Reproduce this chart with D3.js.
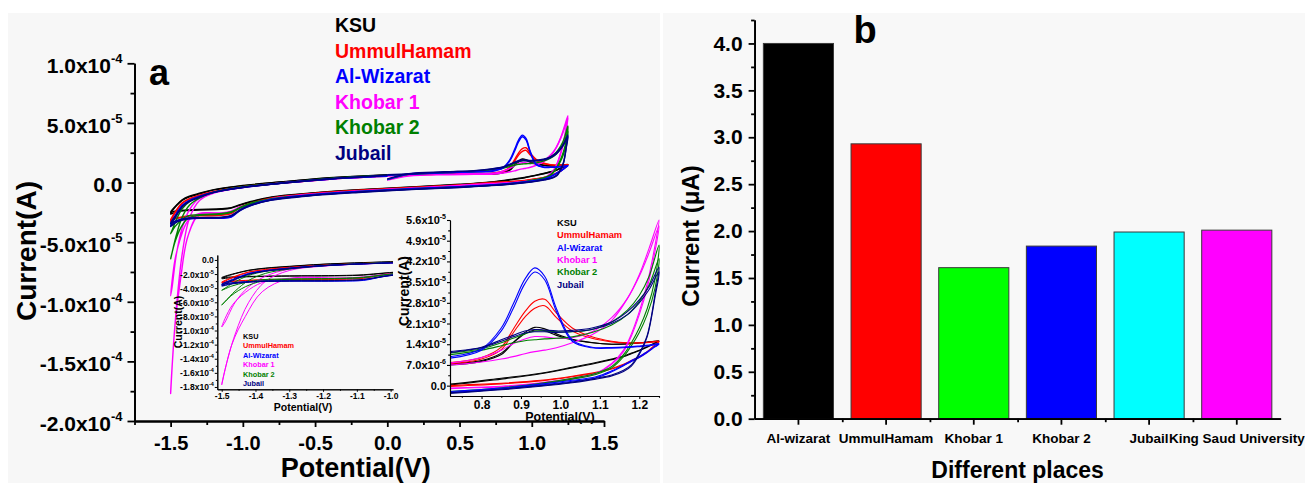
<!DOCTYPE html>
<html><head><meta charset="utf-8">
<script src="https://cdn.jsdelivr.net/npm/d3@7"></script>
<style>body{margin:0;background:#fff}</style>
</head><body><svg id="c" width="1305" height="483"></svg>
<script>
// ---------- Panel a: cyclic voltammograms (current in 10^-5 A) ----------
const loopPotential = [
  0.00, 0.15, 0.40, 0.60, 0.72, 0.80, 0.85, 0.88, 0.91, 0.935, 0.96, 0.99, 1.03, 1.08, 1.13, 1.17, 1.20, 1.225, 1.25,
  1.24, 1.22, 1.20, 1.18, 1.16, 1.13, 1.09, 1.03, 0.95, 0.85, 0.72, 0.50, 0.20, -0.20, -0.50, -0.80, -0.95, -1.02, -1.08, -1.15, -1.30, -1.38, -1.43, -1.47, -1.50,
  -1.49, -1.46, -1.42, -1.37, -1.30, -1.20, -1.00, -0.70, -0.40, -0.10, 0.00];

const ksuCycle1 = [
  0.25, 0.65, 0.75, 0.75, 0.70, 0.82, 1.05, 1.45, 1.80, 1.97, 1.92, 1.75, 1.57, 1.46, 1.40, 1.42, 1.45, 1.48, 1.52,
  1.45, 1.32, 1.20, 1.10, 1.00, 0.90, 0.78, 0.62, 0.42, 0.25, 0.05, -0.15, -0.35, -0.60, -0.85, -1.20, -1.60, -1.85, -2.10, -2.20, -2.25, -2.30, -2.35, -2.40, -2.50,
  -2.30, -1.90, -1.45, -1.15, -0.90, -0.60, -0.25, 0.10, 0.40, 0.60, 0.65];
const ksuCycle2 = [
  0.62, 0.68, 0.78, 0.78, 0.74, 0.85, 1.10, 1.45, 1.75, 1.88, 1.86, 1.70, 1.55, 1.45, 1.40, 1.41, 1.44, 1.47, 1.50,
  1.43, 1.30, 1.18, 1.08, 0.98, 0.88, 0.76, 0.60, 0.40, 0.22, 0.02, -0.18, -0.38, -0.62, -0.88, -1.25, -1.65, -1.90, -2.15, -2.25, -2.30, -2.35, -2.40, -2.50, -2.65,
  -2.40, -1.95, -1.50, -1.20, -0.95, -0.62, -0.28, 0.08, 0.38, 0.58, 0.62];

const ummulHamamCycle1 = [
  0.25, 0.62, 0.72, 0.76, 0.78, 0.95, 1.30, 1.90, 2.50, 2.85, 2.92, 2.45, 1.95, 1.65, 1.50, 1.45, 1.45, 1.47, 1.50,
  1.38, 1.15, 0.98, 0.85, 0.72, 0.58, 0.45, 0.32, 0.18, 0.08, 0.00, -0.20, -0.40, -0.65, -0.90, -1.30, -1.75, -2.05, -2.55, -2.70, -2.75, -2.80, -2.90, -3.00, -3.15,
  -2.90, -2.30, -1.70, -1.35, -1.05, -0.75, -0.35, 0.00, 0.30, 0.50, 0.55];
const ummulHamamCycle2 = [
  0.58, 0.62, 0.72, 0.75, 0.74, 0.90, 1.22, 1.78, 2.32, 2.62, 2.70, 2.30, 1.85, 1.60, 1.48, 1.44, 1.44, 1.46, 1.48,
  1.36, 1.13, 0.96, 0.83, 0.70, 0.56, 0.43, 0.30, 0.16, 0.06, -0.03, -0.22, -0.42, -0.68, -0.93, -1.33, -1.80, -2.10, -2.60, -2.75, -2.80, -2.85, -2.95, -3.05, -3.25,
  -3.00, -2.40, -1.75, -1.40, -1.10, -0.78, -0.38, -0.02, 0.28, 0.48, 0.53];

const alWizaratCycle1 = [
  0.25, 0.72, 0.85, 0.92, 0.98, 1.25, 1.95, 2.75, 3.60, 3.98, 3.70, 2.60, 1.55, 1.30, 1.29, 1.31, 1.34, 1.37, 1.42,
  1.33, 1.15, 0.98, 0.85, 0.70, 0.50, 0.30, 0.18, 0.05, -0.08, -0.20, -0.35, -0.50, -0.75, -1.00, -1.40, -1.90, -2.30, -2.85, -2.95, -2.95, -3.00, -3.10, -3.25, -3.45,
  -3.20, -2.60, -1.90, -1.50, -1.15, -0.80, -0.40, 0.00, 0.30, 0.50, 0.55];
const alWizaratCycle2 = [
  0.60, 0.70, 0.82, 0.90, 0.93, 1.20, 1.85, 2.60, 3.45, 3.84, 3.58, 2.50, 1.50, 1.28, 1.27, 1.29, 1.32, 1.35, 1.40,
  1.31, 1.12, 0.95, 0.82, 0.67, 0.47, 0.27, 0.15, 0.02, -0.11, -0.23, -0.38, -0.53, -0.78, -1.03, -1.45, -1.95, -2.35, -2.90, -3.00, -3.00, -3.05, -3.15, -3.35, -3.65,
  -3.35, -2.70, -1.95, -1.55, -1.20, -0.83, -0.43, -0.03, 0.28, 0.48, 0.53];

const khobar1Cycle1 = [
  0.20, 0.55, 0.65, 0.68, 0.70, 0.80, 0.90, 0.98, 1.08, 1.15, 1.20, 1.28, 1.45, 1.72, 2.20, 2.95, 3.75, 4.65, 5.60,
  4.75, 3.45, 2.50, 1.75, 1.20, 0.75, 0.42, 0.25, 0.10, -0.02, -0.08, -0.25, -0.45, -0.70, -0.95, -1.35, -1.80, -2.05, -2.40, -2.55, -2.60, -3.20, -4.60, -6.50, -9.50,
  -8.80, -6.00, -3.80, -2.30, -1.30, -0.85, -0.40, 0.00, 0.30, 0.50, 0.55];
const khobar1Cycle2 = [
  0.55, 0.62, 0.72, 0.75, 0.76, 0.95, 1.20, 1.42, 1.58, 1.66, 1.65, 1.60, 1.62, 1.82, 2.30, 2.95, 3.70, 4.50, 5.40,
  4.55, 3.30, 2.40, 1.68, 1.15, 0.72, 0.40, 0.23, 0.08, -0.04, -0.10, -0.27, -0.47, -0.72, -0.98, -1.38, -1.85, -2.10, -2.45, -2.60, -2.65, -4.50, -8.00, -12.00, -17.70,
  -15.50, -10.50, -6.00, -3.00, -1.50, -0.88, -0.42, -0.02, 0.28, 0.48, 0.53];

const khobar2Cycle1 = [
  0.25, 0.70, 0.85, 0.95, 1.10, 1.25, 1.45, 1.60, 1.75, 1.85, 1.85, 1.82, 1.82, 1.90, 2.15, 2.55, 3.05, 3.70, 4.75,
  3.60, 2.60, 1.95, 1.45, 1.05, 0.65, 0.42, 0.25, 0.08, -0.07, -0.20, -0.35, -0.50, -0.75, -1.00, -1.35, -1.75, -2.10, -2.45, -2.60, -2.70, -2.80, -3.20, -3.70, -4.30,
  -4.00, -3.10, -2.20, -1.60, -1.20, -0.80, -0.35, 0.00, 0.35, 0.55, 0.60];
const khobar2Cycle2 = [
  0.60, 0.68, 0.82, 0.92, 1.05, 1.20, 1.35, 1.45, 1.52, 1.55, 1.58, 1.60, 1.65, 1.80, 2.05, 2.40, 2.85, 3.40, 4.30,
  3.30, 2.40, 1.80, 1.35, 0.98, 0.60, 0.38, 0.22, 0.05, -0.10, -0.23, -0.38, -0.53, -0.78, -1.03, -1.40, -1.80, -2.15, -2.50, -2.65, -2.75, -3.00, -3.80, -5.00, -6.40,
  -5.90, -4.40, -2.90, -1.90, -1.30, -0.83, -0.38, -0.02, 0.33, 0.53, 0.58];

const jubailCycle1 = [
  0.30, 0.75, 0.90, 1.00, 1.15, 1.30, 1.55, 1.70, 1.85, 1.90, 1.88, 1.85, 1.87, 1.95, 2.15, 2.50, 2.90, 3.35, 4.00,
  3.10, 1.70, 1.10, 0.70, 0.52, 0.36, 0.25, 0.12, 0.00, -0.12, -0.24, -0.40, -0.55, -0.80, -1.05, -1.45, -1.90, -2.30, -2.75, -2.90, -2.95, -3.00, -3.10, -3.25, -3.45,
  -3.20, -2.70, -2.00, -1.55, -1.20, -0.80, -0.40, 0.00, 0.32, 0.55, 0.62];
const jubailCycle2 = [
  0.65, 0.72, 0.88, 0.98, 1.12, 1.28, 1.50, 1.65, 1.78, 1.82, 1.82, 1.80, 1.83, 1.90, 2.10, 2.40, 2.80, 3.25, 3.85,
  3.00, 1.65, 1.05, 0.66, 0.48, 0.33, 0.22, 0.10, -0.02, -0.14, -0.26, -0.42, -0.57, -0.83, -1.08, -1.48, -1.95, -2.35, -2.80, -2.95, -3.00, -3.05, -3.20, -3.40, -3.70,
  -3.40, -2.80, -2.05, -1.60, -1.25, -0.83, -0.42, -0.02, 0.30, 0.52, 0.60];

const seriesNames = ["KSU", "UmmulHamam", "Al-Wizarat", "Khobar 1", "Khobar 2", "Jubail"];
const seriesColors = ["#000000", "#ff0000", "#0000ff", "#ff00ff", "#008000", "#000080"];

// tick labels (mantissa, exponent)
const mainXTickValues = [-1.5, -1.0, -0.5, 0.0, 0.5, 1.0, 1.5];
const mainYTickValues = [10, 5, 0, -5, -10, -15, -20];
const mainYTickLabels = [["1.0x10","-4"],["5.0x10","-5"],["0.0",""],["-5.0x10","-5"],["-1.0x10","-4"],["-1.5x10","-4"],["-2.0x10","-4"]];
const rightXTickValues = [0.8, 0.9, 1.0, 1.1, 1.2];
const rightYTickValues = [0, 0.7, 1.4, 2.1, 2.8, 3.5, 4.2, 4.9, 5.6];
const rightYTickLabels = [["0.0",""],["7.0x10","-6"],["1.4x10","-5"],["2.1x10","-5"],["2.8x10","-5"],["3.5x10","-5"],["4.2x10","-5"],["4.9x10","-5"],["5.6x10","-5"]];
const leftXTickValues = [-1.5, -1.4, -1.3, -1.2, -1.1, -1.0];
const leftYTickValues = [0, -2, -4, -6, -8, -10, -12, -14, -16, -18];
const leftYTickLabels = [["0.0",""],["-2.0x10","-5"],["-4.0x10","-5"],["-6.0x10","-5"],["-8.0x10","-5"],["-1.0x10","-4"],["-1.2x10","-4"],["-1.4x10","-4"],["-1.6x10","-4"],["-1.8x10","-4"]];

// ---------- Panel b: bar chart ----------
const barCategories = ["Al-wizarat", "UmmulHamam", "Khobar 1", "Khobar 2", "Jubail", "King Saud University"];
const barValues = [4.00, 2.93, 1.61, 1.84, 1.99, 2.01];
const barColors = ["#000000", "#ff0000", "#00ff00", "#0000ff", "#00ffff", "#ff00ff"];
const barYTickValues = [0, 0.5, 1.0, 1.5, 2.0, 2.5, 3.0, 3.5, 4.0];

// ================= drawing =================
const FONT = "'Liberation Sans', Arial, Helvetica, sans-serif";
const svg = d3.select("#c");
svg.append("rect").attr("x",8).attr("y",13).attr("width",652).attr("height",470).attr("fill","#f7f7f7");
svg.append("rect").attr("x",663).attr("y",13).attr("width",642).attr("height",470).attr("fill","#f8f8f8");

const series = seriesNames.map((n,i)=>({name:n, color:seriesColors[i],
  cycles:[[ksuCycle1,ksuCycle2],[ummulHamamCycle1,ummulHamamCycle2],[alWizaratCycle1,alWizaratCycle2],
          [khobar1Cycle1,khobar1Cycle2],[khobar2Cycle1,khobar2Cycle2],[jubailCycle1,jubailCycle2]][i]}));
const drawOrder = [0,1,3,4,2,5];

function styleAxis(g, fs, sw){
  g.attr("font-family", FONT).attr("font-weight","bold").attr("font-size", fs);
  g.select(".domain").attr("stroke-width", sw).attr("stroke","#000");
  g.selectAll(".tick line").attr("stroke-width", sw).attr("stroke","#000");
  g.selectAll(".tick text").attr("fill","#000");
}
function supLabels(g, values, labels, supSize, supDy, dy){
  g.selectAll(".tick text").each(function(d){
    const idx = values.findIndex(v=>Math.abs(v-d)<1e-9);
    const lab = labels[idx];
    const t = d3.select(this).text(null).attr("dy", dy);
    t.append("tspan").text(lab[0]);
    if (lab[1]) t.append("tspan").attr("dy", -supDy).attr("font-size", supSize).text(lab[1]);
  });
}
function drawCurves(g, x, y, sw){
  const line = d3.line().x(d=>x(d[0])).y(d=>y(d[1])).curve(d3.curveCatmullRom.alpha(0.5));
  drawOrder.forEach(si=>{
    const s = series[si];
    s.cycles.forEach(arr=>{
      g.append("path").attr("d", line(loopPotential.map((v,i)=>[v,arr[i]])))
        .attr("fill","none").attr("stroke", s.color).attr("stroke-width", sw);
    });
  });
}
function legend(g, x, y0, dyStep, fs){
  seriesNames.forEach((n,i)=>{
    g.append("text").attr("x",x).attr("y",y0+i*dyStep).attr("font-family",FONT).attr("font-weight","bold")
     .attr("font-size",fs).attr("fill",seriesColors[i]).text(n);
  });
}
function title(x, y, txt, fs, rot){
  const t = svg.append("text").attr("font-family",FONT).attr("font-weight","bold").attr("font-size",fs)
    .attr("text-anchor","middle").attr("fill","#000").text(txt);
  if (rot) t.attr("transform",`translate(${x},${y}) rotate(-90)`); else t.attr("x",x).attr("y",y);
  return t;
}

// ---- main CV plot ----
const xM = d3.scaleLinear([-1.75,1.5],[134.5,604]);
const yM = d3.scaleLinear([-20,10],[421,63.3]);
drawCurves(svg.append("g"), xM, yM, 1.4);

let g = svg.append("g").attr("transform","translate(0,421)")
  .call(d3.axisBottom(xM).tickValues([-1.75,-1.25,-0.75,-0.25,0.25,0.75,1.25]).tickSize(4).tickSizeOuter(0).tickFormat(""));
styleAxis(g, 20, 1.8);
g = svg.append("g").attr("transform","translate(0,421)")
  .call(d3.axisBottom(xM).tickValues(mainXTickValues).tickSize(6).tickSizeOuter(0).tickPadding(9).tickFormat(d=>d.toFixed(1)));
styleAxis(g, 20, 1.8);
g = svg.append("g").attr("transform","translate(134.5,0)")
  .call(d3.axisLeft(yM).tickValues([7.5,2.5,-2.5,-7.5,-12.5,-17.5]).tickSize(4).tickSizeOuter(0).tickFormat(""));
styleAxis(g, 21, 1.8);
g = svg.append("g").attr("transform","translate(134.5,0)")
  .call(d3.axisLeft(yM).tickValues(mainYTickValues).tickSize(7).tickSizeOuter(0).tickPadding(5));
styleAxis(g, 21, 1.8);
supLabels(g, mainYTickValues, mainYTickLabels, 13, 10, "0.45em");

title(355.7, 477, "Potential(V)", 27, false);
title(36, 251, "Current(A)", 28, true);
svg.append("text").attr("x",149).attr("y",85).attr("font-family",FONT).attr("font-weight","bold").attr("font-size",36).text("a");
legend(svg, 335, 32, 25.6, 19.5);

// ---- left inset ----
const xL = d3.scaleLinear([-1.513,-0.993],[217.3,393]);
const yL = d3.scaleLinear([-18.33,0.7],[389.3,255]);
svg.append("clipPath").attr("id","clipL").append("rect").attr("x",217.3).attr("y",255).attr("width",175.7).attr("height",134.3);
drawCurves(svg.append("g").attr("clip-path","url(#clipL)"), xL, yL, 1.0);
g = svg.append("g").attr("transform","translate(0,389.3)")
  .call(d3.axisBottom(xL).tickValues([-1.45,-1.35,-1.25,-1.15,-1.05]).tickSize(1.5).tickSizeOuter(0).tickFormat(""));
styleAxis(g, 8.5, 1);
g = svg.append("g").attr("transform","translate(0,389.3)")
  .call(d3.axisBottom(xL).tickValues(leftXTickValues).tickSize(2.5).tickSizeOuter(0).tickPadding(1.5).tickFormat(d=>d.toFixed(1)));
styleAxis(g, 8.5, 1);
g = svg.append("g").attr("transform","translate(217.3,0)")
  .call(d3.axisLeft(yL).tickValues([-1,-3,-5,-7,-9,-11,-13,-15,-17]).tickSize(1.5).tickSizeOuter(0).tickFormat(""));
styleAxis(g, 8.5, 1);
g = svg.append("g").attr("transform","translate(217.3,0)")
  .call(d3.axisLeft(yL).tickValues(leftYTickValues).tickSize(2.5).tickSizeOuter(0).tickPadding(1));
styleAxis(g, 8.5, 1);
supLabels(g, leftYTickValues, leftYTickLabels, 5.5, 4, "0.35em");
title(303, 411, "Potential(V)", 10.5, false);
title(182, 322, "Current(A)", 10.5, true);
legend(svg, 243, 339, 9.4, 7.3);

// ---- right inset ----
const xR = d3.scaleLinear([0.72,1.25],[450,659]);
const yR = d3.scaleLinear([-0.35,5.6],[396,220]);
svg.append("clipPath").attr("id","clipR").append("rect").attr("x",450).attr("y",214).attr("width",210).attr("height",182);
drawCurves(svg.append("g").attr("clip-path","url(#clipR)"), xR, yR, 1.1);
g = svg.append("g").attr("transform","translate(0,396)")
  .call(d3.axisBottom(xR).tickValues([0.75,0.85,0.95,1.05,1.15,1.25]).tickSize(1.8).tickSizeOuter(0).tickFormat(""));
styleAxis(g, 12, 1.1);
g = svg.append("g").attr("transform","translate(0,396)")
  .call(d3.axisBottom(xR).tickValues(rightXTickValues).tickSize(3).tickSizeOuter(0).tickPadding(1).tickFormat(d=>d.toFixed(1)));
styleAxis(g, 12, 1.1);
g = svg.append("g").attr("transform","translate(450,0)")
  .call(d3.axisLeft(yR).tickValues([0.35,1.05,1.75,2.45,3.15,3.85,4.55,5.25]).tickSize(1.8).tickSizeOuter(0).tickFormat(""));
styleAxis(g, 11, 1.1);
g = svg.append("g").attr("transform","translate(450,0)")
  .call(d3.axisLeft(yR).tickValues(rightYTickValues).tickSize(3).tickSizeOuter(0).tickPadding(1));
styleAxis(g, 11, 1.1);
supLabels(g, rightYTickValues, rightYTickLabels, 7, 5, "0.32em");
title(560, 421, "Potential(V)", 12.5, false);
title(409, 291, "Current(A)", 14, true);
legend(svg, 557, 226, 12.3, 9.3);

// ---- panel b ----
const xB = d3.scaleBand(barCategories, [754.6, 1280.6]).paddingInner(0.2).paddingOuter(0.1);
const yB = d3.scaleLinear([0,4.25],[418.7,20]);
svg.append("g").selectAll("rect").data(barCategories).join("rect")
  .attr("x", d=>xB(d)).attr("width", xB.bandwidth())
  .attr("y", (d,i)=>yB(barValues[i])).attr("height", (d,i)=>yB(0)-yB(barValues[i]))
  .attr("fill", (d,i)=>barColors[i]).attr("stroke","#3a3a3a").attr("stroke-width",1);
const xBoundary = d3.scaleLinear([0, barCategories.length],[754.6,1280.6]);
g = svg.append("g").attr("transform","translate(0,418.7)")
  .call(d3.axisBottom(xBoundary).tickValues([1,2,3,4,5]).tickSize(3.5).tickSizeOuter(0).tickFormat(""));
styleAxis(g, 13.5, 1.8);
g = svg.append("g").attr("transform","translate(0,418.7)")
  .call(d3.axisBottom(xB).tickSize(6).tickSizeOuter(0).tickPadding(9));
styleAxis(g, 13.5, 1.8);
g = svg.append("g").attr("transform","translate(754.6,0)")
  .call(d3.axisLeft(yB).tickValues([0.25,0.75,1.25,1.75,2.25,2.75,3.25,3.75,4.25]).tickSize(3.5).tickSizeOuter(0).tickFormat(""));
styleAxis(g, 21, 1.8);
g = svg.append("g").attr("transform","translate(754.6,0)")
  .call(d3.axisLeft(yB).tickValues(barYTickValues).tickSize(6).tickSizeOuter(0).tickPadding(6).tickFormat(d=>d.toFixed(1)));
styleAxis(g, 21, 1.8);
svg.append("text").attr("x",853.4).attr("y",43).attr("font-family",FONT).attr("font-weight","bold").attr("font-size",38).text("b");
title(1017.6, 478, "Different places", 23, false);
title(699, 236, "Current (\u03BCA)", 24, true);
</script></body></html>
